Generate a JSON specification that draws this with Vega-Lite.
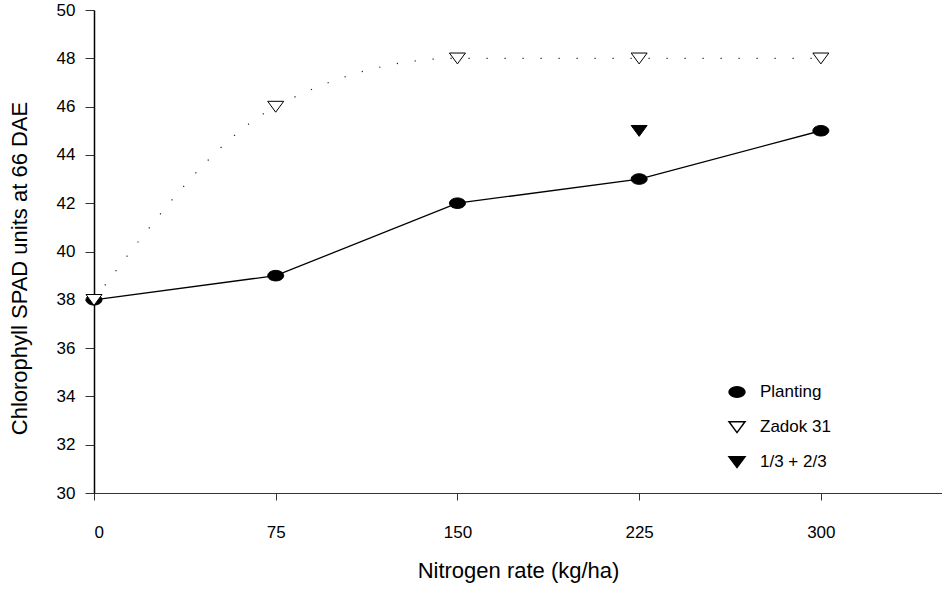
{
  "$schema": "https://vega.github.io/schema/vega-lite/v6.json",
  "width": 848,
  "height": 483,
  "autosize": "none",
  "padding": {"left": 94, "top": 10, "right": 0, "bottom": 98},
  "background": "white",
  "config": {
    "view": {"stroke": null},
    "font": "Liberation Sans",
    "axis": {"grid": false, "domainColor": "black", "tickColor": "#333", "labelColor": "black", "titleColor": "black", "labelFont": "Liberation Sans", "titleFont": "Liberation Sans", "titleFontWeight": "normal"}
  },
  "data": {
    "values": [
      {"series": "Planting", "N": 0, "SPAD": 38},
      {"series": "Planting", "N": 75, "SPAD": 39},
      {"series": "Planting", "N": 150, "SPAD": 42},
      {"series": "Planting", "N": 225, "SPAD": 43},
      {"series": "Planting", "N": 300, "SPAD": 45},
      {"series": "Zadok 31", "N": 0, "SPAD": 38},
      {"series": "Zadok 31", "N": 75, "SPAD": 46},
      {"series": "Zadok 31", "N": 150, "SPAD": 48},
      {"series": "Zadok 31", "N": 225, "SPAD": 48},
      {"series": "Zadok 31", "N": 300, "SPAD": 48},
      {"series": "1/3 + 2/3", "N": 225, "SPAD": 45}
    ]
  },
  "encoding": {
    "x": {"field": "N", "type": "quantitative", "scale": {"domain": [0, 350], "nice": false, "zero": false},
      "axis": {"values": [0, 75, 150, 225, 300], "title": "Nitrogen rate (kg/ha)", "tickSize": 7, "labelPadding": 24, "labelFontSize": 17, "titleFontSize": 22, "titlePadding": 20, "domainWidth": 1.2, "domainColor": "#333"}},
    "y": {"field": "SPAD", "type": "quantitative", "scale": {"domain": [30, 50], "nice": false, "zero": false},
      "axis": {"values": [30, 32, 34, 36, 38, 40, 42, 44, 46, 48, 50], "title": "Chlorophyll SPAD units at 66 DAE", "tickSize": 9, "labelPadding": 10, "labelFontSize": 17, "titleFontSize": 22, "titlePadding": 25, "titleY": 258, "domainWidth": 1.5}}
  },
  "layer": [
    {
      "transform": [{"filter": "datum.series === 'Planting'"}],
      "mark": {"type": "line", "color": "black", "strokeWidth": 1.3}
    },
    {
      "transform": [{"filter": "datum.series === 'Zadok 31'"}],
      "mark": {"type": "line", "color": "#222", "strokeWidth": 1.2, "interpolate": "monotone", "strokeDash": [1.2, 16.8]}
    },
    {
      "mark": {"type": "point", "filled": true, "stroke": "black", "strokeWidth": 1, "size": 256, "opacity": 1, "clip": false},
      "encoding": {
        "shape": {"field": "series", "type": "nominal",
          "scale": {"domain": ["Planting", "Zadok 31", "1/3 + 2/3"],
            "range": ["M-1,0 A1,0.66 0 1,0 1,0 A1,0.66 0 1,0 -1,0 Z", "M-1,-0.66 L1,-0.66 L0,0.7 Z", "M-1,-0.66 L1,-0.66 L0,0.7 Z"]},
          "legend": {"orient": "none", "legendX": 634, "legendY": 373, "title": null, "labelFontSize": 17, "labelFont": "Liberation Sans", "labelColor": "black", "symbolSize": 256, "labelOffset": 14, "rowPadding": 17, "padding": 0,
            "encode": {"symbols": {"update": {"stroke": {"value": "black"}, "strokeWidth": {"value": 1}, "opacity": {"value": 1}}}}}},
        "fill": {"field": "series", "type": "nominal",
          "scale": {"domain": ["Planting", "Zadok 31", "1/3 + 2/3"], "range": ["black", "white", "black"]}}
      }
    }
  ]
}
